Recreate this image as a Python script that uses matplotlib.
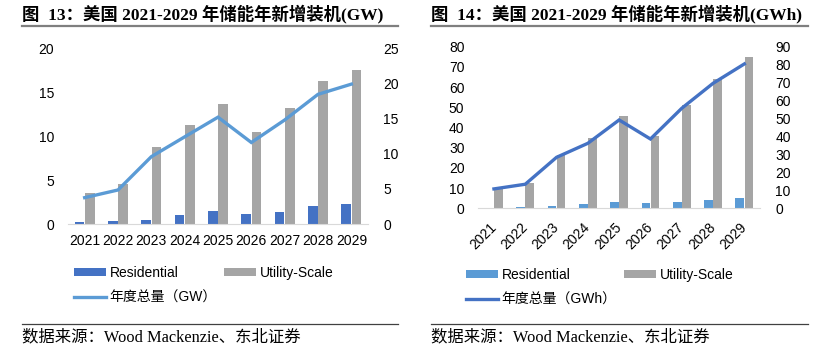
import matplotlib.pyplot as plt
import numpy as np
from matplotlib.lines import Line2D

plt.rcParams['font.family'] = ['Liberation Sans', 'Noto Sans CJK SC']

years = ['2021', '2022', '2023', '2024', '2025', '2026', '2027', '2028', '2029']

# GW chart
gw_residential = [0.23, 0.30, 0.50, 1.02, 1.48, 1.10, 1.40, 2.00, 2.31]
gw_utility = [3.49, 4.51, 8.76, 11.27, 13.70, 10.47, 13.16, 16.27, 17.49]
gw_total = [3.75, 4.84, 9.58, 12.40, 15.20, 11.60, 14.80, 18.45, 19.90]

# GWh chart
gwh_residential = [0.3, 0.6, 1.2, 2.1, 3.1, 2.5, 3.0, 4.1, 5.1]
gwh_utility = [9.6, 12.4, 26.4, 34.7, 45.7, 36.0, 51.2, 64.2, 75.1]
gwh_total = [10.8, 13.4, 28.4, 36.2, 49.2, 38.6, 55.7, 69.6, 80.4]

W, H = 830, 358
fig = plt.figure(figsize=(W / 100, H / 100), dpi=100)


def px(x0, y0, x1, y1):
    return [x0 / W, 1 - y1 / H, (x1 - x0) / W, (y1 - y0) / H]


def draw(rect, res, util, total, res_color, line_color, lmax, lstep, rmax, rstep,
         bw, off, rotate):
    ax = fig.add_axes(px(*rect))
    x = np.arange(len(years))
    b1 = ax.bar(x - off, res, width=bw, color=res_color, label='Residential')
    b2 = ax.bar(x + off, util, width=bw, color='#A5A5A5', label='Utility-Scale')
    ax.set_xlim(-0.5, len(years) - 0.5)
    ax.set_ylim(0, lmax)
    ax.set_yticks(np.arange(0, lmax + 0.1, lstep))
    ax.set_xticks(x)
    if rotate:
        ax.set_xticklabels(years, rotation=45, ha='right', va='center',
                           rotation_mode='anchor')
        ax.tick_params(axis='x', pad=12)
    else:
        ax.set_xticklabels(years)
        ax.tick_params(axis='x', pad=7)
    ax2 = ax.twinx()
    l1, = ax2.plot(x, total, color=line_color, lw=2.4, solid_joinstyle='miter')
    ax2.set_ylim(0, rmax)
    ax2.set_yticks(np.arange(0, rmax + 0.1, rstep))
    for a in (ax, ax2):
        for s in a.spines.values():
            s.set_visible(False)
        a.tick_params(length=0, labelsize=10, colors='black')
    ax.spines['bottom'].set_visible(True)
    ax.spines['bottom'].set_color('#D9D9D9')
    ax.tick_params(axis='y', pad=10)
    ax2.tick_params(axis='y', pad=11)
    return b1, b2, l1


h = draw((68, 48.3, 368, 224), gw_residential, gw_utility, gw_total,
         '#4472C4', '#5B9BD5', 20, 5, 25, 5, 0.29, 0.155, False)
fig.legend([h[0], h[2], h[1]], ['Residential', '年度总量（GW）', 'Utility-Scale'],
           ncol=2, loc='upper left', bbox_to_anchor=(74 / W, 1 - 266 / H),
           frameon=False, fontsize=10, borderpad=0, borderaxespad=0,
           handlelength=2.3, handleheight=0.5, handletextpad=0.25,
           columnspacing=0.55, labelspacing=0.75)

h = draw((478.3, 46.7, 760, 208.3), gwh_residential, gwh_utility, gwh_total,
         '#5B9BD5', '#4472C4', 80, 10, 90, 10, 0.28, 0.145, True)
fig.legend([h[0], h[2], h[1]], ['Residential', '年度总量（GWh）', 'Utility-Scale'],
           ncol=2, loc='upper left', bbox_to_anchor=(466 / W, 1 - 268 / H),
           frameon=False, fontsize=10, borderpad=0, borderaxespad=0,
           handlelength=2.3, handleheight=0.5, handletextpad=0.25,
           columnspacing=0.55, labelspacing=0.75)

serif = ['Liberation Serif', 'Noto Sans CJK SC']
titles = ['图  13：美国 2021-2029 年储能年新增装机(GW)',
          '图  14：美国 2021-2029 年储能年新增装机(GWh)']
for x0, x1, title in [(22, 398, titles[0]), (431, 808, titles[1])]:
    fig.text(x0 / W, 1 - 14 / H, title, family=serif, fontsize=12.5,
             fontweight='bold', va='center', ha='left')
    fig.add_artist(Line2D([x0 / W, x1 / W], [1 - 25.5 / H] * 2,
                          color='#7F7F7F', lw=1.6))
    fig.add_artist(Line2D([x0 / W, x1 / W], [1 - 324 / H] * 2,
                          color='#404040', lw=0.9))
    fig.text(x0 / W, 1 - 337 / H, '数据来源：Wood Mackenzie、东北证券',
             family=serif, fontsize=11.8, va='center', ha='left')

fig.savefig('out.png', dpi=100)
